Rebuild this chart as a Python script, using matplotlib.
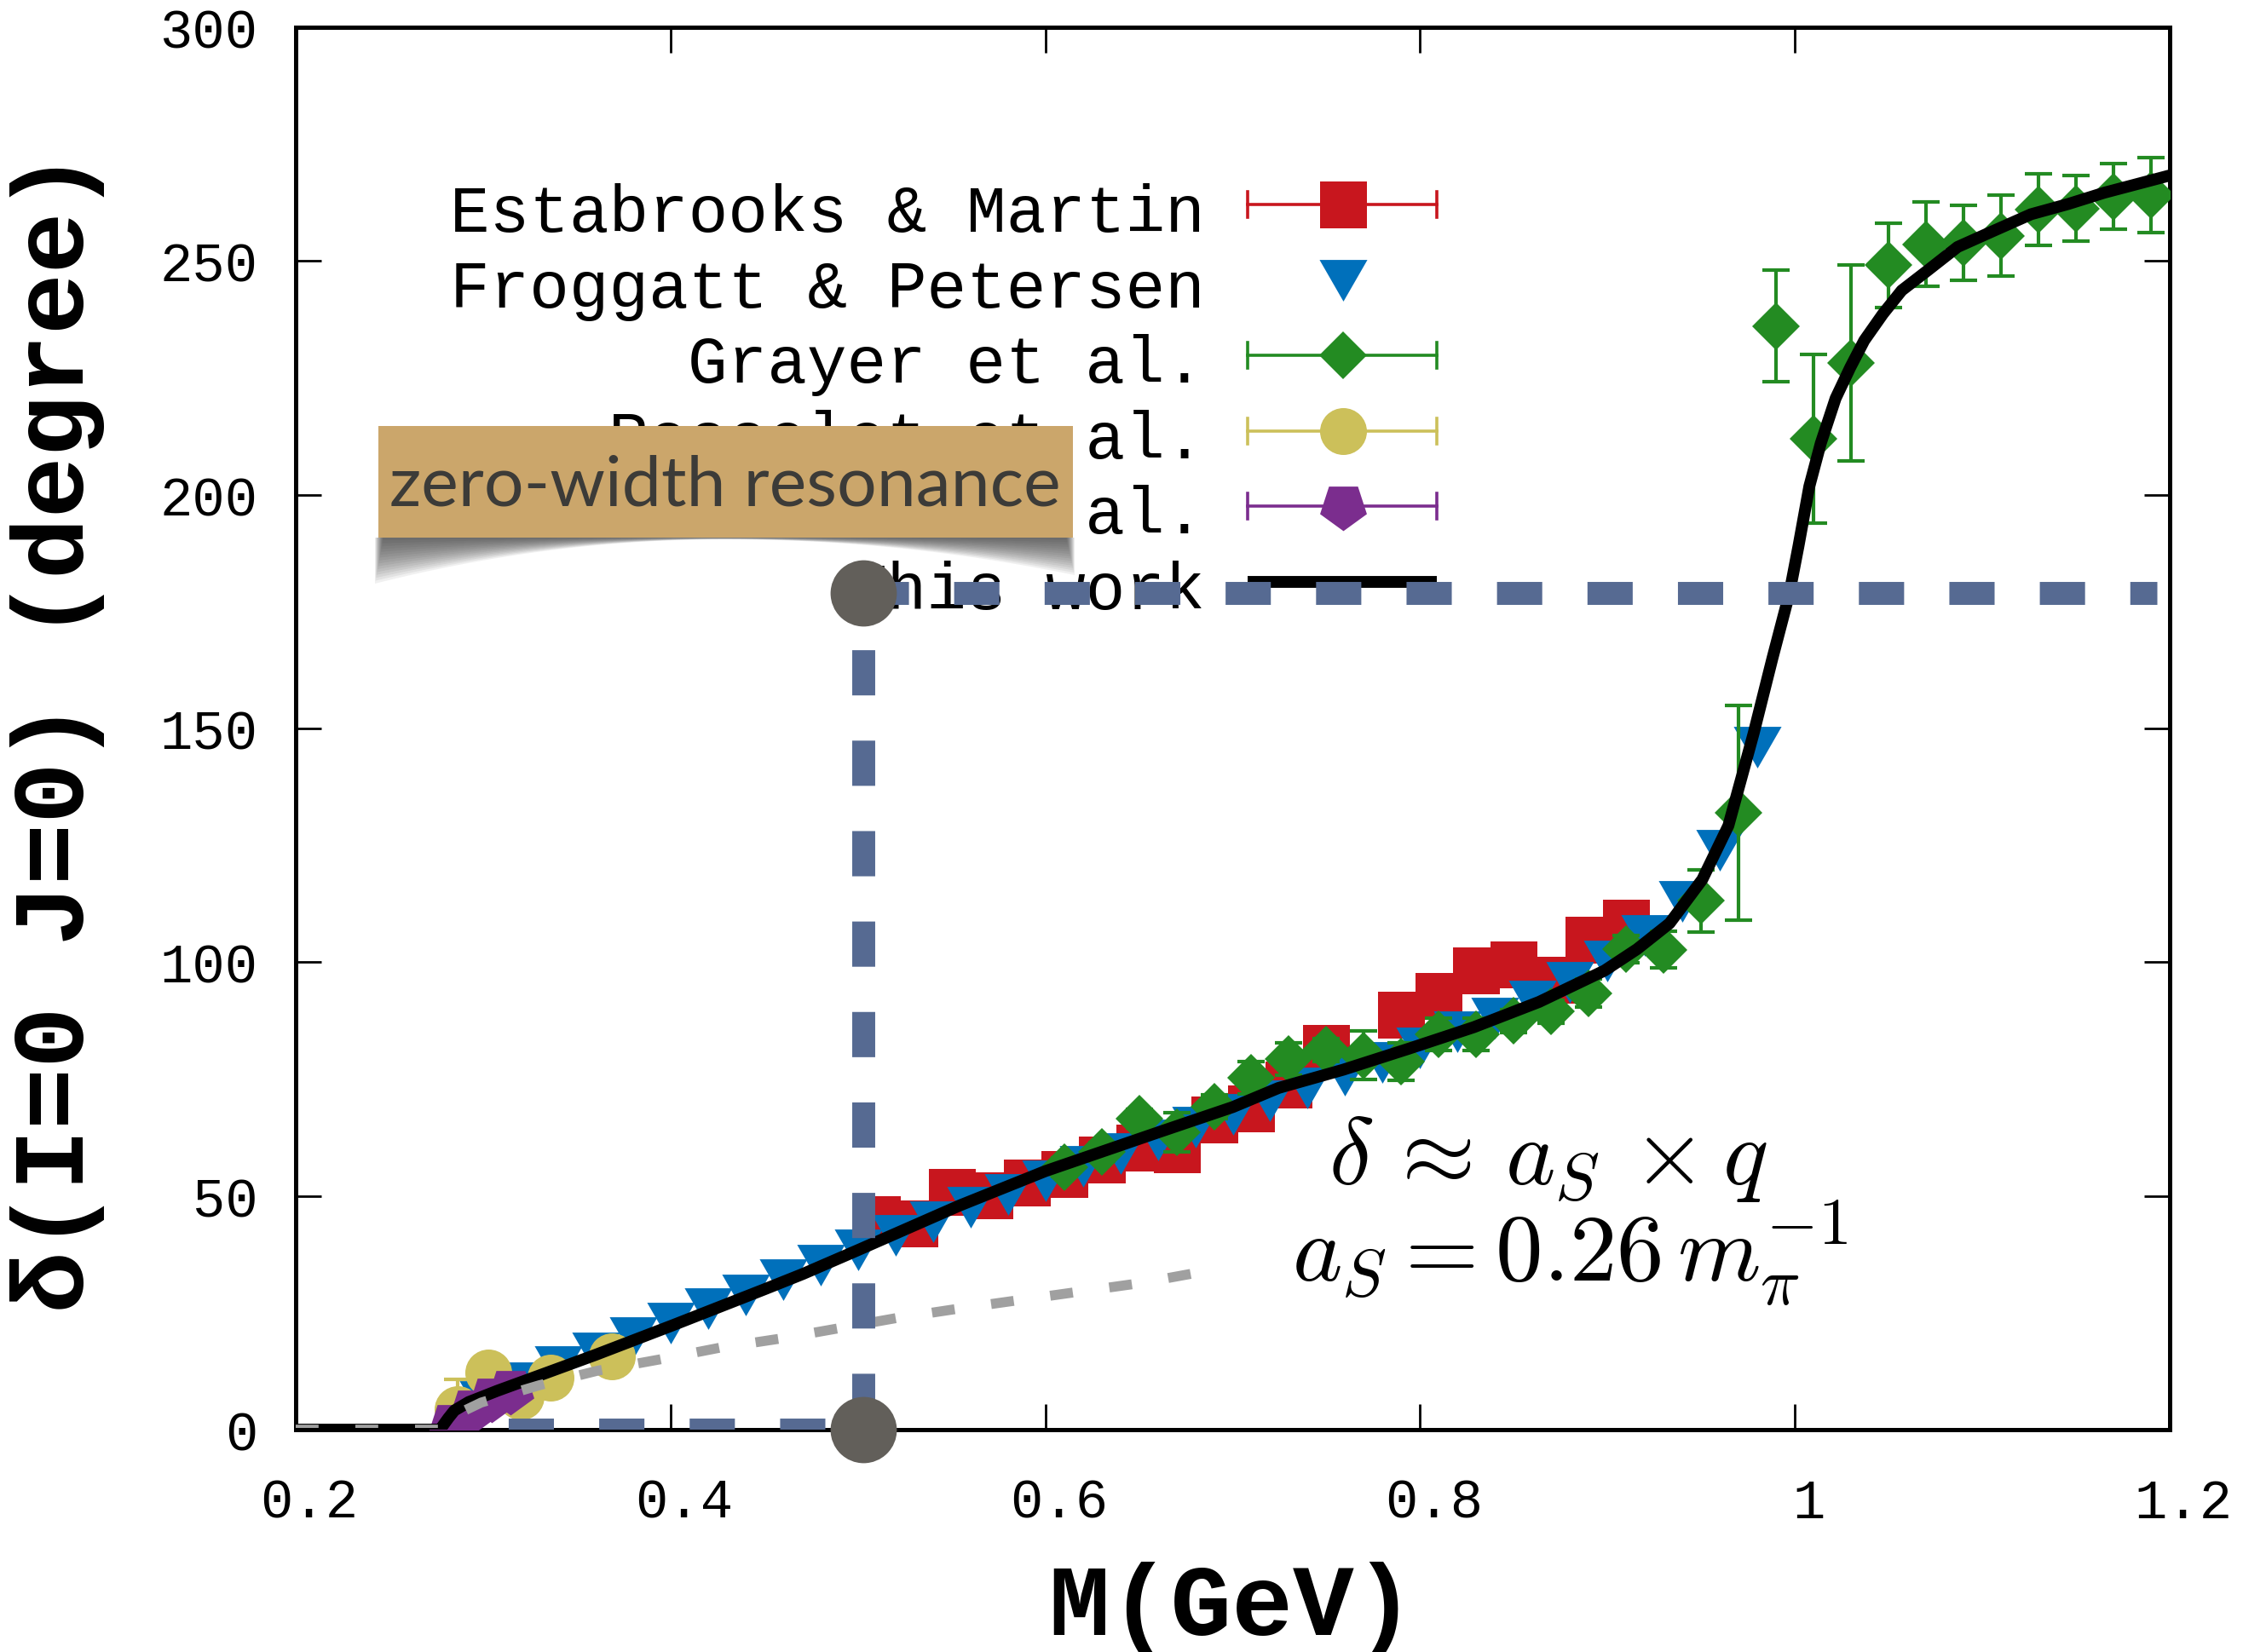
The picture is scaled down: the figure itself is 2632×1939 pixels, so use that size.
import numpy as np
import matplotlib
matplotlib.use("Agg")
import matplotlib.pyplot as plt
from matplotlib.patches import Rectangle, Polygon
from matplotlib.transforms import ScaledTranslation

W, H, DPI = 2632, 1940, 200
MONO = ['Liberation Mono', 'DejaVu Sans Mono']
plt.rcParams['font.family'] = MONO
plt.rcParams['mathtext.fontset'] = 'cm'

# ---- values ----
# Estabrooks & Martin
em_m = [0.51, 0.53, 0.55, 0.57, 0.59, 0.61, 0.63, 0.65, 0.67, 0.69,
        0.71, 0.73, 0.75, 0.79, 0.81, 0.83, 0.85, 0.87, 0.89, 0.91]
em_d = [45.1, 44.1, 50.8, 50.1, 52.9, 54.6, 57.7, 60.4, 60.0, 66.3,
        68.7, 73.9, 81.6, 88.7, 92.8, 98.3, 99.5, 96.3, 104.8, 108.4]

# Froggatt & Petersen
fp_m = [0.30, 0.32, 0.34, 0.36, 0.38, 0.40, 0.42, 0.44, 0.46, 0.48,
        0.50, 0.52, 0.54, 0.56, 0.58, 0.60, 0.62, 0.64, 0.66, 0.68,
        0.70, 0.72, 0.74, 0.76, 0.78, 0.80, 0.82, 0.84, 0.86, 0.88,
        0.90, 0.92, 0.94, 0.96, 0.98]
fp_d = [6.1, 10.0, 13.4, 16.4, 19.7, 22.7, 25.8, 28.8, 32.0, 35.2,
        38.5, 41.5, 44.5, 47.5, 50.3, 53.2, 56.3, 59.0, 61.9, 64.7,
        67.4, 70.4, 73.1, 75.9, 78.6, 81.7, 85.1, 88.1, 91.7, 95.7,
        100.2, 105.7, 113.0, 124.0, 146.0]

# Grayer et al.
gr_m = [0.61, 0.63, 0.65, 0.67, 0.69, 0.71, 0.73, 0.75, 0.77, 0.79,
        0.81, 0.83, 0.85, 0.87, 0.89, 0.91, 0.93, 0.95, 0.97, 0.99,
        1.01, 1.03, 1.05, 1.07, 1.09, 1.11, 1.13, 1.15, 1.17, 1.19]
gr_d = [56.2, 59.5, 66.5, 63.6, 69.1, 75.3, 79.3, 81.2, 80.1, 78.7,
        84.6, 84.6, 87.4, 89.4, 93.4, 102.8, 102.7, 113.1, 132.0, 236.1,
        212.0, 228.2, 249.1, 253.6, 253.9, 255.4, 261.0, 261.2, 263.8, 264.1]
gr_err = [2, 2, 2, 4.2, 2.5, 3.5, 3.4, 2.5, 5.2, 4,
          3.5, 3.5, 2.5, 2.5, 3, 3, 4, 6.7, 23, 12,
          18, 21, 9, 9, 8, 8.7, 7.7, 7, 7, 8]

# Rosselet et al.
ro_m = [0.2865, 0.3026, 0.3199, 0.336, 0.3687]
ro_d = [4.4, 12.3, 7.1, 11.1, 15.6]
ro_err = [6.4, 3, 3, 3, 3]

# Pislak et al.
pi_m = [0.283, 0.294, 0.3045, 0.3146]
pi_d = [1.1, 4.2, 6.8, 8.3]

# this work
fit_m = [0.20, 0.277, 0.2815, 0.2847, 0.2923, 0.3075, 0.328, 0.36, 0.401, 0.45,
         0.4706, 0.50, 0.554, 0.60, 0.661, 0.70, 0.7245, 0.759, 0.794, 0.8287,
         0.8635, 0.8984, 0.9158, 0.9331, 0.9506, 0.9645, 0.978, 0.988, 0.997, 1.0019,
         1.0077, 1.0138, 1.0217, 1.0295, 1.037, 1.047, 1.057, 1.0709, 1.0868, 1.1063,
         1.126, 1.1459, 1.165, 1.20]
fit_d = [0, 0, 2.5, 4.1, 5.9, 8.3, 11.3, 16.0, 22.3, 30.0,
         33.3, 38.4, 47.9, 55.3, 63.7, 69.0, 73.1, 77.0, 81.5, 86.1,
         91.5, 98.2, 102.8, 108.3, 117.7, 129.2, 149.0, 165.0, 178.8, 189.0,
         201.8, 211.0, 220.6, 227.2, 233.0, 238.7, 243.7, 248.0, 253.0, 256.5,
         260.0, 262.2, 264.6, 268.3]

# delta ~ a_S x q
lin_m = [0.20, 0.279, 0.281, 0.285, 0.299, 0.330, 0.361, 0.394, 0.426, 0.459,
         0.490, 0.521, 0.554, 0.600, 0.650, 0.691]
lin_d = [0, 0, 1.8, 3.1, 5.8, 9.5, 12.6, 15.0, 17.5, 19.5,
         21.7, 23.9, 25.9, 28.5, 31.3, 34.3]

# zero-width resonance guide
res_m, res_d = 0.503, 179.0

xticks = [0.2, 0.4, 0.6, 0.8, 1.0, 1.2]
xtick_labels = ['0.2', '0.4', '0.6', '0.8', '1', '1.2']
yticks = [0, 50, 100, 150, 200, 250, 300]

legend_labels = ['Estabrooks & Martin', 'Froggatt & Petersen', 'Grayer et al.',
                 'Rosselet et al.', 'Pislak et al.', 'This work']

RED, BLUE, GREEN = '#c8161e', '#0070bb', '#238b22'
YELLOW, PURPLE = '#ccc05a', '#7b2d8e'
SLATE, DOT, GREY = '#566a92', '#625f5a', '#a0a0a0'

tri = [(-1, 0.87), (1, 0.87), (0, -0.87)]
pent = (5, 0, 180)

fig = plt.figure(figsize=(W / DPI, H / DPI), dpi=DPI)
ax = fig.add_axes([347 / W, 1 - 1679 / H, 2199 / W, 1646 / H])
ax.set_xlim(0.2, 1.2)
ax.set_ylim(0, 300)

# data
ax.plot(em_m, em_d, 's', color=RED, ms=19.8, markeredgewidth=0, zorder=3)
ax.plot(fp_m, fp_d, marker=tri, ls='none', color=BLUE, ms=20.2, markeredgewidth=0, zorder=3)
ax.errorbar(gr_m, gr_d, yerr=gr_err, fmt='none', ecolor=GREEN,
            elinewidth=1.5, capsize=5.6, capthick=1.5, zorder=3)
ax.plot(gr_m, gr_d, 'D', color=GREEN, ms=14.3, markeredgewidth=0, zorder=3)
ax.errorbar(ro_m, ro_d, yerr=ro_err, fmt='none', ecolor=YELLOW,
            elinewidth=1.5, capsize=5.6, capthick=1.5, zorder=3)
ax.plot(ro_m, ro_d, 'o', color=YELLOW, ms=19.8, markeredgewidth=0, zorder=3)
ax.plot(pi_m, pi_d, marker=pent, ls='none', color=PURPLE, ms=20.8, markeredgewidth=0, zorder=3)

ax.plot(fit_m, fit_d, color='black', lw=5, zorder=4, solid_capstyle='butt',
        solid_joinstyle='round')
ax.plot(lin_m, lin_d, color=GREY, lw=4.2, dashes=(2.3, 3.7), zorder=5)
ax.plot([0.2, 0.279], [0, 0], color='black', lw=1.8, zorder=5.5)

# resonance guide lines
ax.plot([0.4824, 0.3119], [0, 0], color=SLATE, lw=9.7, dashes=(1.97, 1.97), zorder=6)
ax.plot([res_m, res_m], [2.4, 167.7], color=SLATE, lw=9.7, dashes=(1.97, 1.97), zorder=6)
ax.plot([res_m, 1.193], [res_d, res_d], color=SLATE, lw=9.7, dashes=(1.97, 1.97), zorder=6)
ax.plot([res_m, res_m], [0, res_d], 'o', color=DOT, ms=28, markeredgewidth=0,
        zorder=8, clip_on=False)

# legend drawn by hand (gnuplot style)
rows_px = [241, 330, 418, 507, 595, 684]
styles = [('s', RED, 19.8, True), (tri, BLUE, 20.2, False), ('D', GREEN, 14.3, True),
          ('o', YELLOW, 19.8, True), (pent, PURPLE, 20.8, True), (None, 'black', 0, False)]
for lab, ypx, (mk, col, ms, bar) in zip(legend_labels, rows_px, styles):
    yf = (1679 - ypx) / 1646
    ax.text(0.485, yf - 31 / 1646, lab, transform=ax.transAxes, ha='right',
            va='baseline', fontsize=28, zorder=2)
    if mk is None:
        ax.plot([0.508, 0.609], [yf, yf], color=col, lw=5, transform=ax.transAxes,
                clip_on=False, zorder=2, solid_capstyle='butt')
        continue
    if bar:
        ax.plot([0.508, 0.609], [yf, yf], color=col, lw=1.3, transform=ax.transAxes,
                clip_on=False, zorder=2)
        for xe in (0.508, 0.609):
            ax.plot([xe, xe], [yf - 15 / 1646, yf + 15 / 1646], color=col, lw=1.3,
                    transform=ax.transAxes, clip_on=False, zorder=2)
    ax.plot([0.559], [yf], marker=mk, ls='none', color=col, ms=ms, markeredgewidth=0,
            transform=ax.transAxes, clip_on=False, zorder=2)

# axes styling
ax.set_xticks(xticks)
ax.set_xticklabels(xtick_labels)
ax.set_yticks(yticks)
ax.tick_params(direction='in', length=10.8, width=1.0, top=True, right=True,
               labelsize=23)
ax.tick_params(axis='x', pad=20)
ax.tick_params(axis='y', pad=16)
for s in ax.spines.values():
    s.set_linewidth(1.8)
off = ScaledTranslation(0.08, 0, fig.dpi_scale_trans)
for lab in ax.get_xticklabels():
    lab.set_transform(lab.get_transform() + off)

fig.text(1446 / W, 1 - 1888 / H, 'M(GeV)', ha='center', va='center',
         fontsize=43, fontweight='bold')
fig.text(67 / W, 1 - 858 / H, 'δ(I=0 J=0) (degree)', ha='center', va='center',
         rotation=90, fontsize=43, fontweight='bold')

# formulas
fig.text(1816 / W, 1 - 1390 / H, r'$\delta\,\approx\,a_S\,\times q$', ha='center',
         va='baseline', fontsize=40)
fig.text(1842 / W, 1 - 1504 / H, r'$a_S = 0.26\,m_\pi^{-1}$', ha='center',
         va='baseline', fontsize=40)

# label box with soft curled shadow
bx0, bx1, by0, by1 = 444, 1259, 501, 632
n = 16
for k in range(n):
    t = (k + 1) / n
    inset = 10 * (1 - t)
    xs = np.linspace(bx0 - 4 + inset, bx1 + 2 - inset, 80)
    u = (xs - xs[0]) / (xs[-1] - xs[0])
    amp = np.where(u < 0.5, 52.0, 42.0)
    depth = (2 + amp * (2 * u - 1) ** 2) * t
    top = [(x / W, 1 - by1 / H) for x in xs]
    bot = [(x / W, 1 - (by1 + d) / H) for x, d in zip(xs[::-1], depth[::-1])]
    fig.patches.append(Polygon(top + bot, closed=True, transform=fig.transFigure,
                               facecolor='#2b2b2b', edgecolor='none', alpha=0.065,
                               zorder=9))
fig.patches.append(Rectangle((bx0 / W, 1 - by1 / H), (bx1 - bx0) / W, (by1 - by0) / H,
                             transform=fig.transFigure, facecolor='#cba66b',
                             edgecolor='none', zorder=10))
fig.text(457 / W, 1 - 594 / H, 'zero-width resonance', ha='left', va='baseline',
         fontsize=29.7, color='#3c3b38', family=['Lato', 'DejaVu Sans'], zorder=11)

fig.savefig('out.png', dpi=DPI)
